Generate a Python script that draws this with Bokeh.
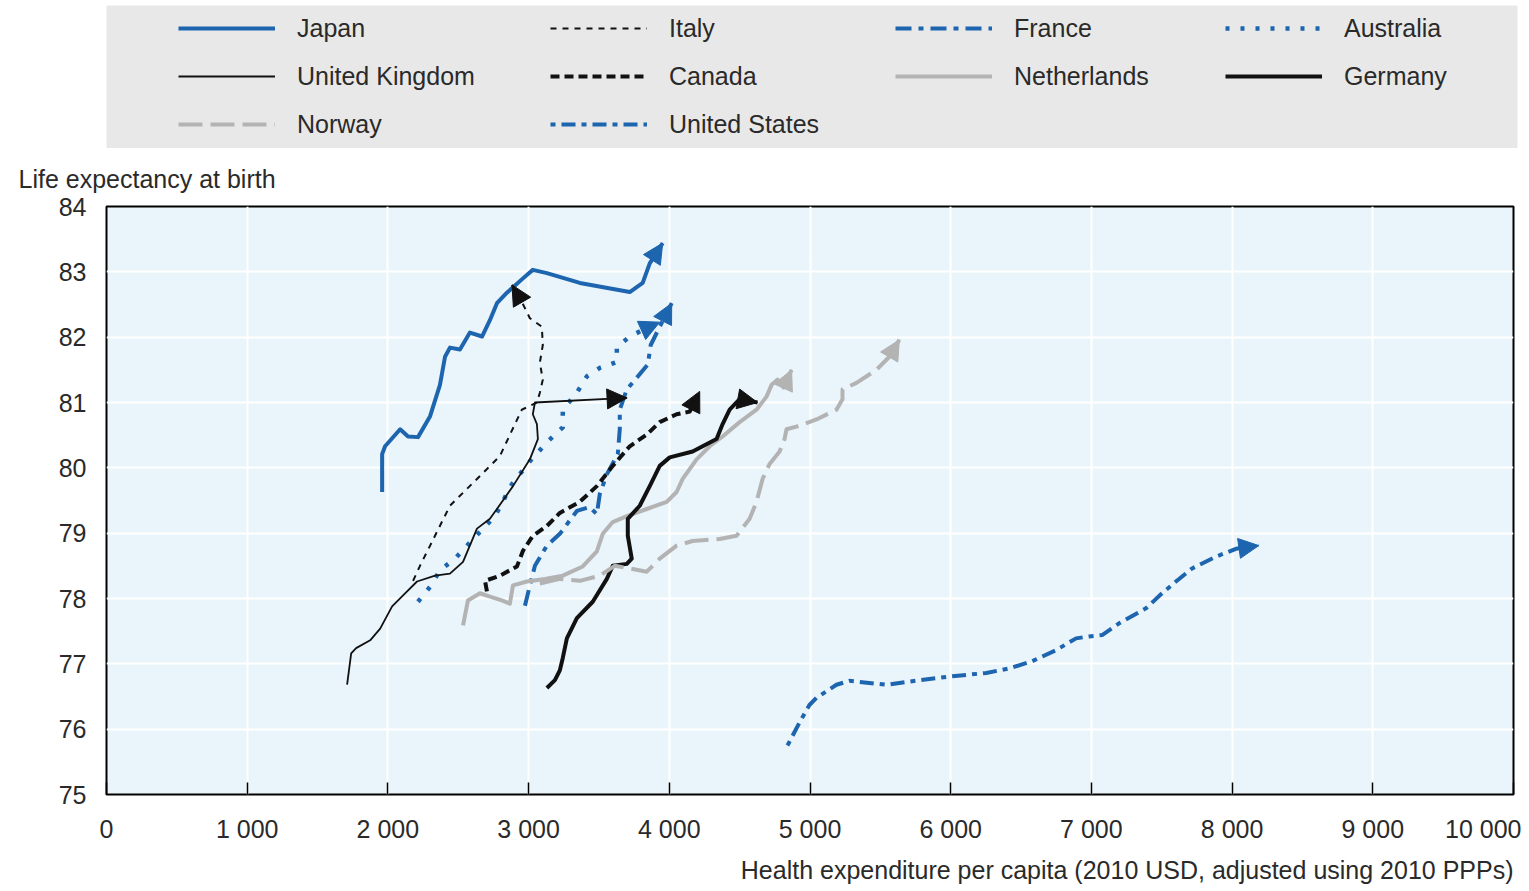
from bokeh.plotting import figure
from bokeh.models import Range1d, FixedTicker, Legend, LegendItem, Arrow, NormalHead, Title
from bokeh.layouts import column
from bokeh.embed import file_html
from bokeh.resources import INLINE

FONT = "Liberation Sans"
FS = "25px"
TXT = "#2a2a2a"

# ---------------- data ----------------
x_ticks = [0, 1000, 2000, 3000, 4000, 5000, 6000, 7000, 8000, 9000, 10000]
x_tick_labels = ["0", "1 000", "2 000", "3 000", "4 000", "5 000", "6 000",
                 "7 000", "8 000", "9 000", "10 000"]
y_ticks = [75, 76, 77, 78, 79, 80, 81, 82, 83, 84]

japan_x = [1959, 1959, 1980, 2087, 2143, 2214, 2300, 2370, 2406, 2441, 2512, 2583,
           2669, 2725, 2775, 2846, 2960, 3030, 3130, 3364, 3719, 3811, 3861, 3953]
japan_y = [79.63, 80.21, 80.33, 80.59, 80.48, 80.47, 80.79, 81.27, 81.70, 81.84, 81.81,
           82.07, 82.01, 82.26, 82.52, 82.68, 82.90, 83.03, 82.98, 82.83, 82.69, 82.83,
           83.13, 83.44]

italy_x = [2179, 2228, 2300, 2441, 2633, 2796, 2903, 2952, 3059, 3080, 3101, 3080,
           3101, 3094, 3009, 2952, 2882]
italy_y = [78.27, 78.50, 78.81, 79.42, 79.83, 80.18, 80.67, 80.89, 81.00, 81.15, 81.35,
           81.61, 81.88, 82.16, 82.29, 82.54, 82.80]

france_x = [2974, 3009, 3045, 3130, 3222, 3343, 3435, 3485, 3506, 3556, 3634, 3648,
            3648, 3698, 3769, 3847, 3868, 3932, 4017]
france_y = [77.89, 78.20, 78.50, 78.81, 78.99, 79.34, 79.40, 79.29, 79.60, 79.90, 80.21,
            80.59, 80.89, 81.20, 81.38, 81.58, 81.88, 82.16, 82.52]

australia_x = [2214, 2300, 2370, 2477, 2654, 2761, 2882, 3009, 3130, 3243, 3243, 3343,
               3414, 3506, 3627, 3627, 3719, 3840, 3932]
australia_y = [77.95, 78.18, 78.43, 78.61, 79.02, 79.26, 79.75, 80.10, 80.39, 80.62,
               80.89, 81.15, 81.40, 81.53, 81.62, 81.85, 82.01, 82.14, 82.23]

uk_x = [1710, 1739, 1774, 1874, 1945, 2030, 2122, 2207, 2335, 2441, 2534, 2633, 2725,
        2775, 2889, 3009, 3066, 3059, 3030, 3045, 3700]
uk_y = [76.68, 77.16, 77.24, 77.36, 77.54, 77.88, 78.08, 78.26, 78.35, 78.38, 78.56,
        79.07, 79.22, 79.37, 79.72, 80.13, 80.44, 80.67, 80.82, 81.00, 81.07]

canada_x = [2704, 2690, 2796, 2917, 2960, 3030, 3130, 3222, 3364, 3485, 3598, 3719,
            3840, 3932, 4052, 4145, 4216]
canada_y = [78.11, 78.27, 78.35, 78.49, 78.73, 78.96, 79.11, 79.31, 79.48, 79.72, 80.03,
            80.33, 80.51, 80.70, 80.82, 80.86, 81.17]

netherlands_x = [2534, 2569, 2654, 2725, 2810, 2867, 2889, 2988, 3116, 3243, 3385, 3485,
                 3527, 3598, 3698, 3840, 3982, 4052, 4095, 4194, 4287, 4379, 4500, 4620,
                 4691, 4727, 4769, 4812, 4869]
netherlands_y = [77.59, 77.97, 78.08, 78.03, 77.97, 77.92, 78.20, 78.26, 78.30, 78.35,
                 78.49, 78.72, 78.99, 79.17, 79.26, 79.37, 79.48, 79.63, 79.83, 80.13,
                 80.33, 80.48, 80.70, 80.89, 81.09, 81.27, 81.35, 81.23, 81.50]

germany_x = [3130, 3187, 3222, 3243, 3272, 3343, 3456, 3556, 3598, 3698, 3733, 3705,
             3705, 3790, 3861, 3932, 4003, 4166, 4237, 4336, 4379, 4429, 4500, 4627]
germany_y = [76.63, 76.75, 76.90, 77.09, 77.39, 77.70, 77.95, 78.30, 78.50, 78.53, 78.61,
             78.96, 79.22, 79.42, 79.72, 80.03, 80.16, 80.25, 80.33, 80.44, 80.67, 80.89,
             81.05, 81.00]

norway_x = [3080, 3222, 3364, 3506, 3612, 3719, 3840, 3932, 4052, 4166, 4358, 4478,
            4571, 4620, 4663, 4713, 4784, 4819, 4833, 4904, 5046, 5188, 5231, 5231,
            5330, 5472, 5564, 5635]
norway_y = [78.23, 78.30, 78.27, 78.35, 78.50, 78.46, 78.41, 78.61, 78.81, 78.88, 78.91,
            78.96, 79.22, 79.48, 79.83, 80.06, 80.25, 80.44, 80.59, 80.63, 80.74, 80.89,
            81.05, 81.20, 81.30, 81.50, 81.70, 81.96]

us_x = [4840, 4925, 4996, 5046, 5188, 5280, 5543, 5777, 6011, 6253, 6416, 6579, 6749,
        6891, 6984, 7076, 7197, 7388, 7502, 7601, 7715, 7885, 8027, 8190]
us_y = [75.75, 76.10, 76.37, 76.48, 76.68, 76.74, 76.68, 76.75, 76.81, 76.86, 76.93,
        77.04, 77.21, 77.39, 77.42, 77.44, 77.62, 77.85, 78.08, 78.26, 78.46, 78.64,
        78.76, 78.81]

countries = ["Japan", "Italy", "France", "Australia", "United Kingdom", "Canada",
             "Netherlands", "Germany", "Norway", "United States"]
xs_all = [japan_x, italy_x, france_x, australia_x, uk_x, canada_x, netherlands_x,
          germany_x, norway_x, us_x]
ys_all = [japan_y, italy_y, france_y, australia_y, uk_y, canada_y, netherlands_y,
          germany_y, norway_y, us_y]

# ---------------- styles ----------------
BLUE = "#1d65ae"
BLACK = "#111111"
GREY = "#b3b3b3"
styles = {
    "Japan":          dict(color=BLUE,  width=4.0, dash="solid"),
    "Italy":          dict(color=BLACK, width=2.0, dash="6 6"),
    "France":         dict(color=BLUE,  width=4.0, dash="16 7 5 7"),
    "Australia":      dict(color=BLUE,  width=4.5, dash="4 11"),
    "United Kingdom": dict(color=BLACK, width=1.8, dash="solid"),
    "Canada":         dict(color=BLACK, width=4.0, dash="9 5"),
    "Netherlands":    dict(color=GREY,  width=4.0, dash="solid"),
    "Germany":        dict(color=BLACK, width=4.0, dash="solid"),
    "Norway":         dict(color=GREY,  width=4.0, dash="24 8"),
    "United States":  dict(color=BLUE,  width=4.0, dash="5 6 14 6"),
}

# ---------------- legend figure ----------------
lf = figure(width=1525, height=148, x_range=Range1d(0, 1), y_range=Range1d(0, 1),
            x_axis_type=None, y_axis_type=None, output_backend="svg",
            toolbar_location=None, min_border_left=106, min_border_right=8,
            min_border_top=5, min_border_bottom=0,
            background_fill_color="#e8e8e8", border_fill_color="white",
            outline_line_color=None)
lf.grid.visible = False

legend_items = {}
for name in countries:
    st = styles[name]
    # legend sample only: drawn outside the visible range
    r = lf.line(x=[5, 6], y=[5, 6], line_color=st["color"], line_width=st["width"],
                line_dash=st["dash"])
    legend_items[name] = LegendItem(label=name, renderers=[r])

legend_columns = [countries[0::4], countries[1::4], countries[2::4], countries[3::4]]
col_x = [72, 444, 789, 1119]
for names, cx in zip(legend_columns, col_x):
    n = len(names)
    h = n * 36 + (n - 1) * 12
    leg = Legend(items=[legend_items[nm] for nm in names], orientation="vertical",
                 location=(cx, 143 - 5 - h), padding=0, spacing=12, margin=0,
                 glyph_width=97, glyph_height=36, label_height=36,
                 label_standoff=22, label_text_font=FONT, label_text_font_size=FS,
                 label_text_color=TXT, background_fill_alpha=0, border_line_color=None)
    lf.add_layout(leg)

# ---------------- main figure ----------------
p = figure(width=1521, height=743, x_range=Range1d(0, 10000), y_range=Range1d(75, 84),
           output_backend="svg", toolbar_location=None,
           min_border_left=106, min_border_right=6, min_border_top=58,
           min_border_bottom=94, background_fill_color="#eaf4fb",
           border_fill_color="white")
p.outline_line_color = "black"
p.outline_line_width = 2

for name, xs, ys in zip(countries, xs_all, ys_all):
    st = styles[name]
    p.line(x=xs, y=ys, line_color=st["color"], line_width=st["width"],
           line_dash=st["dash"], line_join="round")
    head = NormalHead(size=20, fill_color=st["color"], line_color=st["color"],
                      line_width=1)
    p.add_layout(Arrow(end=head, x_start=xs[-2], y_start=ys[-2],
                       x_end=xs[-1], y_end=ys[-1], line_alpha=0))

p.xaxis.ticker = FixedTicker(ticks=x_ticks)
p.xaxis.major_label_overrides = {t: l for t, l in zip(x_ticks, x_tick_labels)}
p.yaxis.ticker = FixedTicker(ticks=y_ticks)

for ax in (p.xaxis, p.yaxis):
    ax.axis_line_color = None
    ax.minor_tick_line_color = None
    ax.major_label_text_font = FONT
    ax.major_label_text_font_size = FS
    ax.major_label_text_color = TXT
    ax.major_tick_line_color = "black"
    ax.major_tick_line_width = 1.5
p.xaxis.major_tick_in = 12
p.xaxis.major_tick_out = 0
p.xaxis.major_label_standoff = 20
p.yaxis.major_tick_in = 0
p.yaxis.major_tick_out = 0
p.yaxis.major_label_standoff = 20

p.xgrid.grid_line_color = "white"
p.xgrid.grid_line_width = 2
p.ygrid.grid_line_color = "white"
p.ygrid.grid_line_width = 2

ytitle = Title(text="Life expectancy at birth", align="left", offset=-88,
               text_font=FONT, text_font_size=FS, text_font_style="normal",
               text_color=TXT, standoff=28)
p.add_layout(ytitle, "above")
xtitle = Title(text="Health expenditure per capita (2010 USD, adjusted using 2010 PPPs)",
               align="right", offset=0, text_font=FONT, text_font_size=FS,
               text_font_style="normal", text_color=TXT, standoff=16)
p.add_layout(xtitle, "below")

layout = column(lf, p, spacing=0)
open("out.html", "w").write(file_html(layout, INLINE))
